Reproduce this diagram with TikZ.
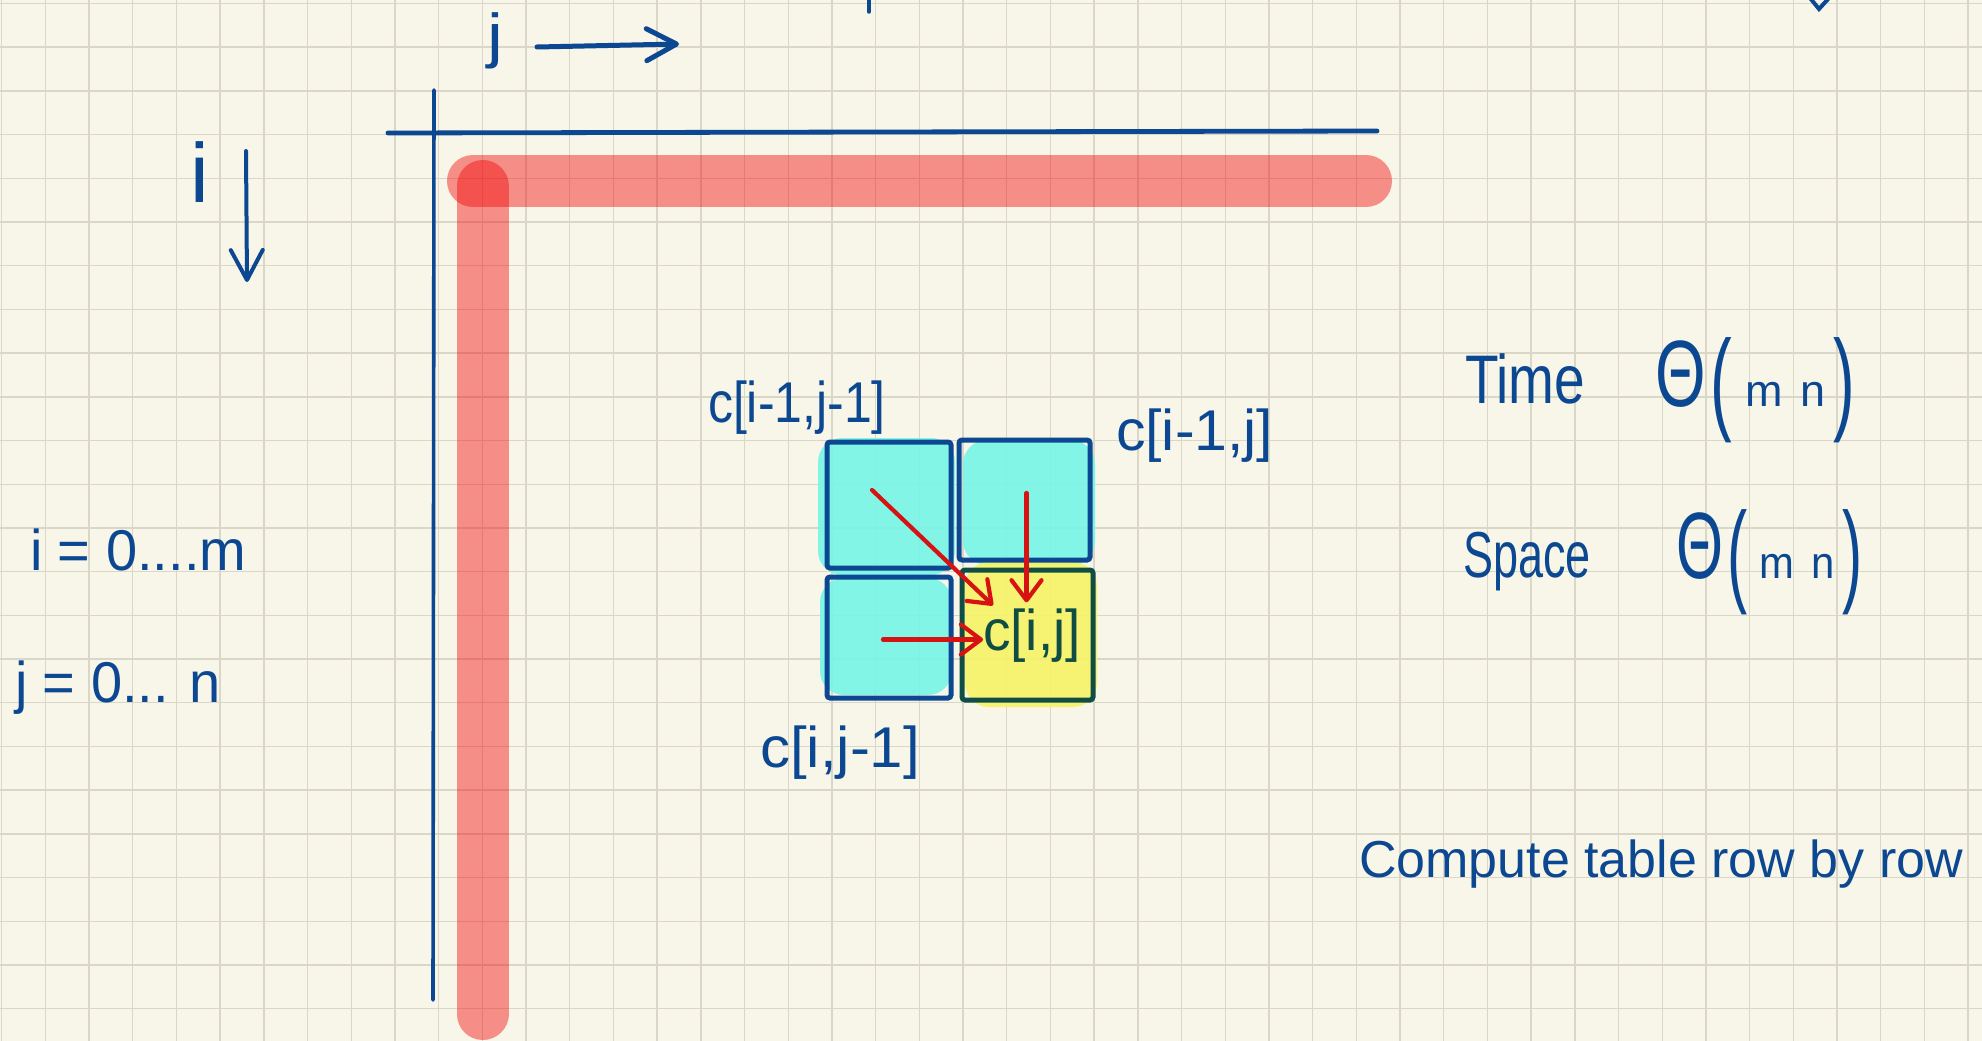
\documentclass[tikz,border=0pt]{standalone}
\usepackage{fontspec}
\setmainfont{Liberation Sans}
\usepackage{graphicx}
\usetikzlibrary{arrows.meta,calc}
\definecolor{paper}{RGB}{248,245,233}
\definecolor{gridc}{RGB}{218,215,201}
\definecolor{ink}{RGB}{12,72,145}
\definecolor{bandred}{RGB}{243,0,0}
\definecolor{arrowred}{RGB}{214,18,18}
\definecolor{cyanhl}{RGB}{120,245,230}
\definecolor{yellowhl}{RGB}{246,243,105}
\definecolor{darkink}{RGB}{16,78,68}
\newcommand{\hw}[4]{{\fontsize{#1}{#1}\selectfont\scalebox{#2}[#3]{#4}}}
\newcommand{\bigpar}[1]{\raisebox{-9pt}{\scalebox{1}[1.2]{#1}}}
\newcommand{\thetamn}{{\fontsize{65}{65}\selectfont\scalebox{1}[1.45]{Θ\hspace{5pt}\bigpar{(}\hspace{13pt}{\fontsize{31}{31}\selectfont\scalebox{1.45}[1]{m}\hspace{18pt}\scalebox{1.45}[1]{n}}\hspace{8pt}\bigpar{)}}}}
\begin{document}
\begin{tikzpicture}[x=1pt,y=-1pt,
  gridline/.style={draw=gridc,line width=1.4pt},
  band/.style={draw=bandred,draw opacity=0.42,line width=52pt,line cap=round},
  axisline/.style={draw=ink,line cap=round},
  hl/.style={inner sep=0pt,outer sep=0pt,rounded corners=24pt,draw=none},
  cellbox/.style={draw=ink,line width=5pt,rounded corners=3pt,inner sep=0pt,outer sep=0pt},
  hand/.style={text=ink,inner sep=0pt,outer sep=0pt,anchor=base west},
  redarrow/.style={draw=arrowred,line width=4.2pt,line cap=round,-{Straight Barb[length=20pt,width=30pt,round]}},
  bluearrow/.style={draw=ink,line cap=round,-{Straight Barb[length=30pt,width=32pt,round]}}
]
% background and grid
\fill[paper] (0,0) rectangle (1982,1041);
\useasboundingbox (0,0) rectangle (1982,1041);
\foreach \k in {0,...,45} \draw[gridline] ({1.6+43.7*\k},0) -- ({1.6+43.7*\k},1041);
\foreach \k in {0,...,23} \draw[gridline] (0,{3.5+43.7*\k}) -- (1982,{3.5+43.7*\k});

% fragments at the top edge
\draw[axisline,line width=3.5pt] (869,-2) -- (869,12);
\draw[axisline,line width=4pt] (1810,-2) -- (1819,9) -- (1829,-2);

% axes
\draw[axisline,line width=4.8pt] (388,133) -- (1377,131);
\draw[axisline,line width=3.6pt] (434,90) -- (433,1000);

% red bands
\draw[band] (473,181) -- (1366,181);
\draw[band] (482.5,186) -- (482.5,1014);

% direction labels
\node[hand] (jlab) at (487,57) {\hw{55}{1.3}{1.1}{j}};
\coordinate (ja) at (537,47);
\coordinate (jb) at (679,44);
\draw[bluearrow,line width=5pt] (ja) -- (jb);
\node[hand] (ilab) at (190,202) {\hw{60}{1.4}{1.4}{i}};
\coordinate (ia) at (246,151);
\coordinate (ib) at (247,282);
\draw[bluearrow,line width=4pt] (ia) -- (ib);

% ranges
\node[hand] (irange) at (30,570) {\hw{50}{1.12}{1.15}{i = 0....m}};
\node[hand] (jrange) at (15,702) {\hw{50}{1.12}{1.15}{j = 0... n}};

% highlights
\node[hl,fill=cyanhl,fill opacity=0.92,minimum width=137pt,minimum height=137pt] (hltl) at (886.5,506.5) {};
\node[hl,fill=cyanhl,fill opacity=0.92,minimum width=132pt,minimum height=125pt] (hltr) at (1029,502.5) {};
\node[hl,fill=cyanhl,fill opacity=0.92,minimum width=132pt,minimum height=117pt] (hlbl) at (886,636.5) {};
\node[hl,fill=yellowhl,fill opacity=0.92,minimum width=132pt,minimum height=145pt] (hlbr) at (1031,634.5) {};

% cells
\node[cellbox,minimum width=124pt,minimum height=126pt] (tl) at (889,505) {};
\node[cellbox,minimum width=131pt,minimum height=120pt] (tr) at (1024.5,500) {};
\node[cellbox,minimum width=124pt,minimum height=121pt] (bl) at (889,637.5) {};
\node[cellbox,draw=darkink,minimum width=131pt,minimum height=130pt] (br) at (1027.5,635) {};

% cell labels
\node[hand] (ctl) at (708,422) {\hw{50}{1.0}{1.15}{c[i-1,j-1]}};
\node[hand] (ctr) at (1116,450) {\hw{50}{1.18}{1.15}{c[i-1,j]}};
\node[hand] (cbl) at (760,767) {\hw{50}{1.2}{1.15}{c[i,j-1]}};
\node[hand,text=darkink] (cij) at (983,650) {\hw{50}{1.1}{1.15}{c[i,j]}};

% dependency arrows
\draw[redarrow] ($(tl.center)+(-17,-15)$) -- ($(cij.north west)+(10,-3)$);
\draw[redarrow] ($(tr.center)+(2,-7)$) -- ($(tr.center |- cij.north)+(2,-6)$);
\draw[redarrow] ($(bl.center)+(-6,2)$) -- ($(bl.center -| cij.west)+(0,2)$);

% complexity
\node[hand] (time) at (1465,403) {\hw{55}{1.0}{1.25}{Time}};
\node[hand] (timeo) at (1655,406) {\thetamn};
\node[hand] (space) at (1463,577) {\hw{50}{0.9}{1.3}{Space}};
\node[hand] (spaceo) at (1676,578) {\scalebox{0.93}[1]{\thetamn}};

% note
\node[hand] (note) at (1359,877) {\hw{52}{1.0}{1.0}{Compute table row by row}};
\end{tikzpicture}
\end{document}
